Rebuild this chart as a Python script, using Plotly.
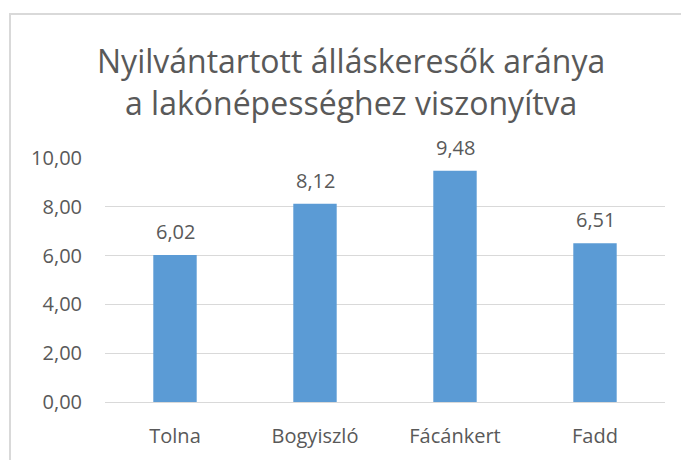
import plotly.graph_objects as go

categories = ["Tolna", "Bogyiszló", "Fácánkert", "Fadd"]
values = [6.02, 8.12, 9.48, 6.51]
tick_vals = [0, 2, 4, 6, 8, 10]
tick_text = ["0,00", "2,00", "4,00", "6,00", "8,00", "10,00"]
title_lines = ["Nyilvántartott álláskeresők aránya", "a lakónépességhez viszonyítva"]

FONT = "Open Sans"
GRAY = "#595959"

L, R, T, B = 105, 16, 158, 58
PW, PH = 681 - L - R, 460 - T - B

def px_x(px):
    return (px - L) / PW

def px_y(py):
    return (460 - B - py) / PH

fig = go.Figure()
fig.add_trace(go.Bar(
    x=categories, y=values, marker=dict(color="#5B9BD5", line=dict(width=0)),
    width=0.31,
))

annotations = []
for c, v in zip(categories, values):
    annotations.append(dict(
        x=c, y=v, xref="x", yref="y", text=f"{v:.2f}".replace(".", ","),
        showarrow=False, yanchor="bottom", yshift=8,
        font=dict(family=FONT, size=20, color=GRAY),
    ))
for i, line in enumerate(title_lines):
    annotations.append(dict(
        x=px_x(351), y=px_y(60 + 43 * i), xref="paper", yref="paper",
        text=line, showarrow=False, xanchor="center", yanchor="middle",
        font=dict(family=FONT, size=32, color=GRAY),
    ))

fig.update_layout(
    width=681, height=460,
    margin=dict(l=L, r=R, t=T, b=B),
    paper_bgcolor="white", plot_bgcolor="white",
    showlegend=False,
    annotations=annotations,
    shapes=[dict(type="rect", xref="paper", yref="paper",
                 x0=px_x(10), x1=px_x(720), y0=px_y(500), y1=px_y(14),
                 line=dict(color="#D9D9D9", width=2), layer="below")],
)
fig.update_yaxes(
    range=[0, 10], tickvals=tick_vals, ticktext=tick_text,
    showgrid=True, gridcolor="#D9D9D9", gridwidth=1,
    zeroline=False, showline=False,
    ticks="outside", ticklen=18, tickcolor="rgba(0,0,0,0)",
    tickfont=dict(family=FONT, size=20, color=GRAY),
    fixedrange=True,
)
fig.update_xaxes(
    showline=True, linecolor="#D9D9D9", linewidth=1,
    ticks="outside", ticklen=16, tickcolor="rgba(0,0,0,0)",
    tickfont=dict(family=FONT, size=20, color=GRAY),
    fixedrange=True,
)
fig.write_html("out.html", config={"displayModeBar": False},
               post_script="document.body.style.margin='0';document.body.style.overflow='hidden';")
